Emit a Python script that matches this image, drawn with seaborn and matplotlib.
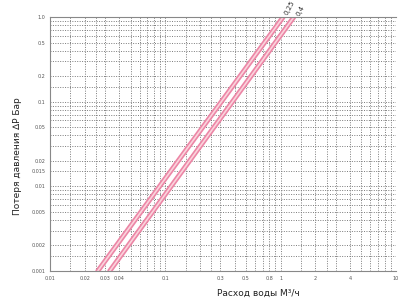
import matplotlib
matplotlib.use("Agg")
import matplotlib.pyplot as plt
import seaborn as sns
import pandas as pd
from matplotlib.ticker import FixedLocator, FixedFormatter, NullFormatter, LogLocator

# данные
flow_a = [0.026, 1.05]      # расход, м3/ч, линия 0,25
dp_a = [0.001, 1.0]         # потеря давления, бар
flow_b = [0.033, 1.3]       # линия 0,4
dp_b = [0.001, 1.0]
line_names = ["0,25", "0,4"]

x_ticks = [0.01, 0.02, 0.03, 0.04, 0.1, 0.3, 0.5, 0.8, 1, 2, 4, 10]
x_labels = ["0.01", "0.02", "0.03", "0.04", "0.1", "0.3", "0.5", "0.8", "1", "2", "4", "10"]
y_ticks = [1, 0.5, 0.2, 0.1, 0.05, 0.02, 0.015, 0.01, 0.005, 0.002, 0.001]
y_labels = ["1.0", "0.5", "0.2", "0.1", "0.05", "0.02", "0.015", "0.01", "0.005", "0.002", "0.001"]

df = pd.DataFrame({
    "flow": flow_a + flow_b,
    "dp": dp_a + dp_b,
    "kv": [line_names[0]] * len(flow_a) + [line_names[1]] * len(flow_b),
})

sns.set_style("white")
plt.rcParams["font.family"] = ["DejaVu Sans"]

fig = plt.figure(figsize=(4, 3), dpi=100)
ax = fig.add_axes([0.125, 0.097, 0.865, 0.846])

ax.set_xscale("log")
ax.set_yscale("log")
ax.set_xlim(0.01, 10)
ax.set_ylim(0.001, 1)

# сетка: мелкий пунктир
ax.xaxis.set_minor_locator(LogLocator(base=10, subs=[1.5, 2, 2.5, 3, 4, 5, 6, 7, 8, 9]))
ax.yaxis.set_minor_locator(LogLocator(base=10, subs=[1.5, 2, 3, 4, 5, 6, 7, 8, 9]))
ax.grid(True, which="both", color="#7a7a7a", linestyle=(0, (1, 1.5)), linewidth=0.7)

# розовая полоса + светлая линия внутри
sns.lineplot(data=df, x="flow", y="dp", units="kv", estimator=None,
             color="#ec86a6", linewidth=3.6, ax=ax, legend=False)
sns.lineplot(data=df, x="flow", y="dp", units="kv", estimator=None,
             color="#fbd3dc", linewidth=1.2, ax=ax, legend=False)

ax.text(flow_a[-1] * 1.0, 1.02, line_names[0], rotation=62, fontsize=5,
        ha="left", va="bottom", color="#333333")
ax.text(flow_b[-1] * 1.02, 1.0, line_names[1], rotation=62, fontsize=5,
        ha="left", va="bottom", color="#333333")

ax.xaxis.set_major_locator(FixedLocator(x_ticks))
ax.xaxis.set_major_formatter(FixedFormatter(x_labels))
ax.xaxis.set_minor_formatter(NullFormatter())
ax.yaxis.set_major_locator(FixedLocator(y_ticks))
ax.yaxis.set_major_formatter(FixedFormatter(y_labels))
ax.yaxis.set_minor_formatter(NullFormatter())
ax.tick_params(axis="both", which="major", labelsize=3.5, colors="#555555",
               length=2, width=0.6, pad=1.5)
ax.tick_params(axis="both", which="minor", length=0)

for s in ax.spines.values():
    s.set_color("#888888")
    s.set_linewidth(0.8)
ax.spines["right"].set_visible(False)

ax.set_xlabel("")
ax.set_ylabel("")
fig.text(0.045, 0.48, "Потеря давления ∆P Бар", rotation=90, fontsize=6.5,
         ha="center", va="center", color="#222222")
fig.text(0.645, 0.022, "Расход воды М³/ч", fontsize=6.5,
         ha="center", va="center", color="#222222")

fig.savefig("out.png", dpi=100)
